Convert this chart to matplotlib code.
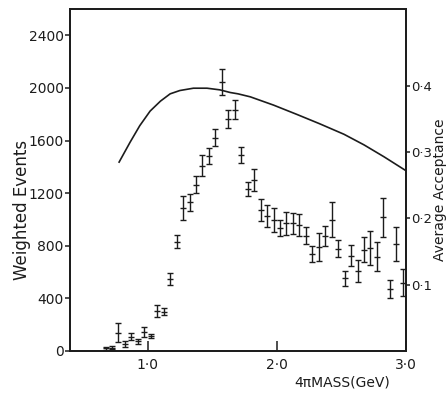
import matplotlib
matplotlib.use("Agg")
import matplotlib.pyplot as plt
from matplotlib.ticker import FixedLocator, FixedFormatter

# 4-pion invariant mass bins (GeV), centre of each 50 MeV bin
mass = [0.675, 0.725, 0.775, 0.825, 0.875, 0.925, 0.975, 1.025, 1.075, 1.125,
        1.175, 1.225, 1.275, 1.325, 1.375, 1.425, 1.475, 1.525, 1.575, 1.625,
        1.675, 1.725, 1.775, 1.825, 1.875, 1.925, 1.975, 2.025, 2.075, 2.125,
        2.175, 2.225, 2.275, 2.325, 2.375, 2.425, 2.475, 2.525, 2.575, 2.625,
        2.675, 2.725, 2.775, 2.825, 2.875, 2.925, 2.975]

# Acceptance-weighted event counts and their errors
events = [20, 25, 140, 53, 109, 74, 145, 114, 307, 300,
          550, 832, 1087, 1130, 1265, 1409, 1480, 1620, 2044, 1765,
          1835, 1493, 1231, 1300, 1074, 1028, 998, 934, 972, 972,
          960, 876, 739, 792, 876, 998, 777, 554, 726, 609,
          769, 782, 718, 1015, 472, 812, 520]
errors = [12, 12, 75, 22, 25, 18, 38, 18, 45, 28,
          45, 47, 90, 65, 65, 80, 60, 65, 100, 67,
          75, 60, 55, 80, 82, 85, 90, 60, 88, 80,
          82, 66, 62, 104, 76, 132, 66, 57, 83, 86,
          95, 130, 108, 146, 67, 128, 105]

# Average acceptance curve (right-hand scale)
acc_mass = [0.78, 0.865, 0.94, 1.02, 1.10, 1.175, 1.25, 1.355, 1.46, 1.56,
            1.64, 1.70, 1.795, 1.975, 2.155, 2.33, 2.52, 2.675, 2.83, 3.0]
acceptance = [0.285, 0.315, 0.340, 0.362, 0.377, 0.388, 0.393, 0.3965, 0.3965, 0.394,
              0.390, 0.388, 0.3835, 0.371, 0.357, 0.343, 0.327, 0.311, 0.293, 0.272]

# Tick values and labels
x_ticks = [1.0, 2.0, 3.0]
x_tick_labels = ["1·0", "2·0", "3·0"]
y_ticks = [0, 400, 800, 1200, 1600, 2000, 2400]
acc_ticks = [0.1, 0.2, 0.3, 0.4]
acc_tick_labels = ["0·1", "0·2", "0·3", "0·4"]

ink = "#1c1c1c"
plt.rcParams["font.family"] = ["DejaVu Sans"]

fig = plt.figure(figsize=(4.47, 3.93), dpi=100)
ax = fig.add_axes([70 / 447, 1 - 351 / 393, 336 / 447, 342 / 393])
ax2 = ax.twinx()

ax.errorbar(mass, events, yerr=errors, fmt="_", ms=4, mew=1.0, color=ink,
            ecolor=ink, elinewidth=1.0, capsize=1.9, capthick=1.0)
ax2.plot(acc_mass, acceptance, color=ink, lw=1.2)

ax.set_xlim(0.4, 3.0)
ax.set_ylim(0, 2600)
ax2.set_ylim(0, 0.516)

ax.xaxis.set_major_locator(FixedLocator(x_ticks))
ax.xaxis.set_major_formatter(FixedFormatter(x_tick_labels))
ax.yaxis.set_major_locator(FixedLocator(y_ticks))
ax2.yaxis.set_major_locator(FixedLocator(acc_ticks))
ax2.yaxis.set_major_formatter(FixedFormatter(acc_tick_labels))

ax.tick_params(axis="x", direction="in", length=7, width=1.1, pad=5,
               labelsize=10, colors=ink)
ax.tick_params(axis="y", direction="out", length=3.5, width=1.1, pad=1,
               labelsize=10, colors=ink)
ax2.tick_params(axis="y", direction="out", length=3, width=1.1, pad=0.5,
                labelsize=9.5, colors=ink)

for a in (ax, ax2):
    for s in a.spines.values():
        s.set_linewidth(1.3)
        s.set_color(ink)

fig.text(13 / 447, 1 - 210 / 393, "Weighted Events", rotation=90,
         ha="left", va="center", fontsize=12, color=ink)
fig.text(447 / 447, 1 - 190 / 393, "Average Acceptance", rotation=90,
         ha="right", va="center", fontsize=10, color=ink)
fig.text(342 / 447, 1 - 382 / 393, "4πMASS(GeV)", ha="center", va="center",
         fontsize=10, color=ink)

fig.savefig("out.png", dpi=100)
